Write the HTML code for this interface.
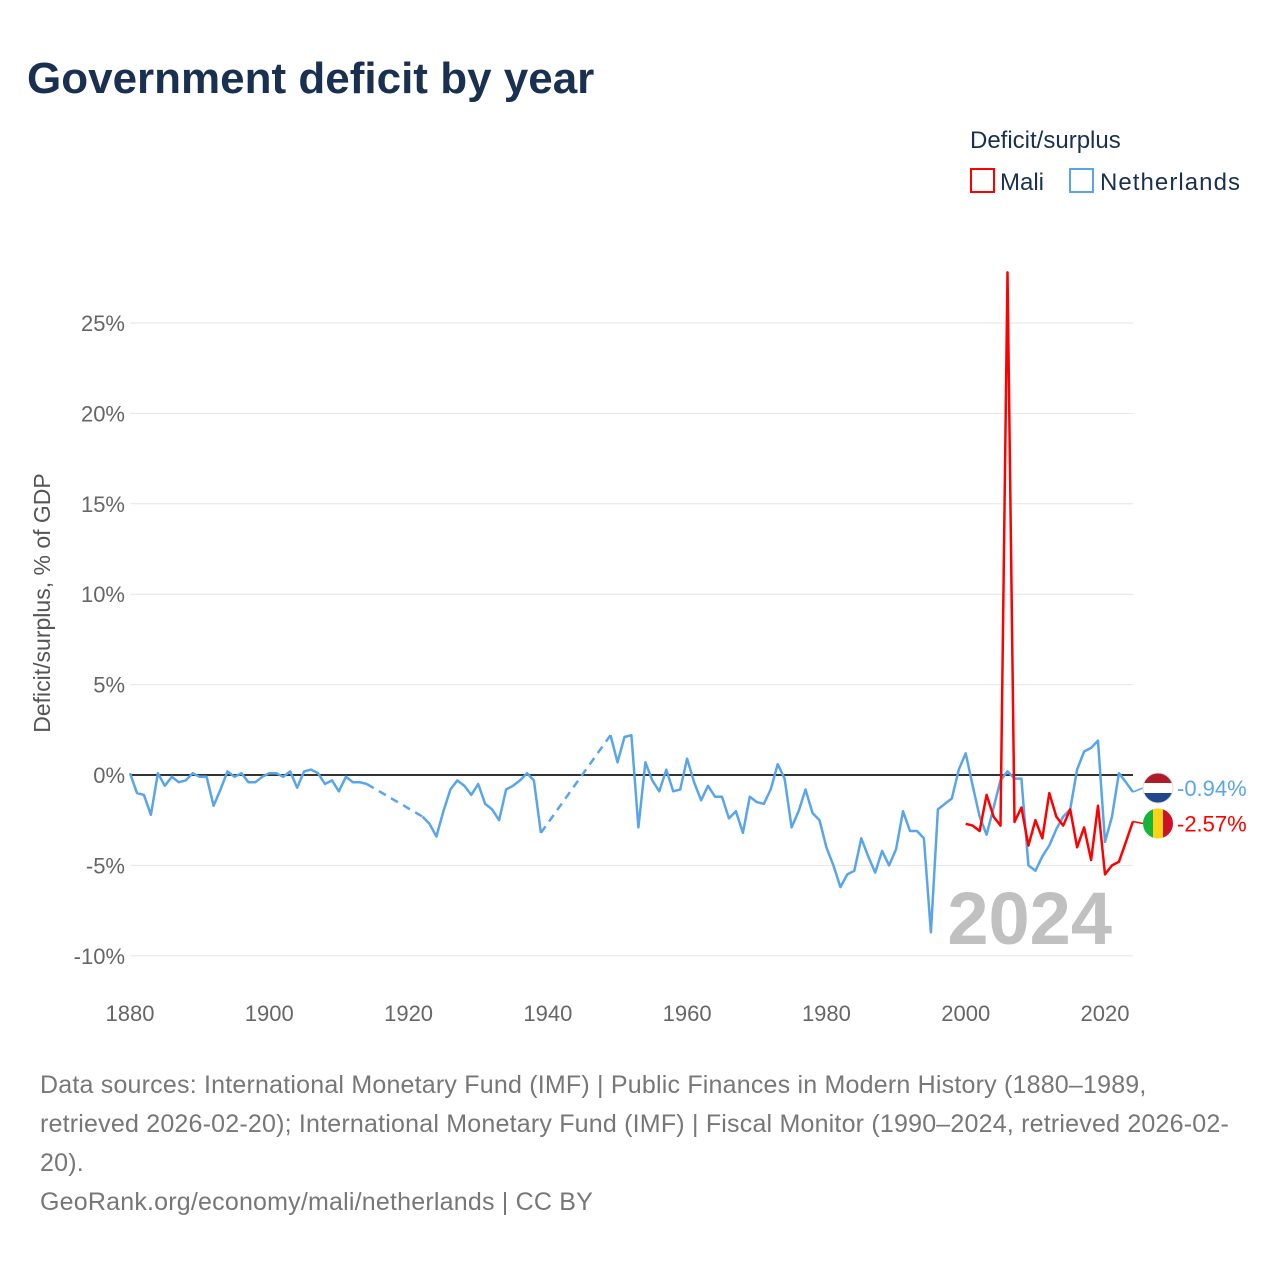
<!DOCTYPE html>
<html><head><meta charset="utf-8"><style>
body{margin:0;background:#fff;font-family:"Liberation Sans",sans-serif;}
#wrap{position:relative;width:1280px;height:1280px;overflow:hidden}
svg text{font-family:"Liberation Sans",sans-serif}
</style></head><body><div id="wrap">
<svg id="c" width="1280" height="1280">
<text x="27" y="93" font-size="44" font-weight="bold" fill="#1a3050">Government deficit by year</text>
<text x="970" y="148" font-size="24" fill="#1a3050">Deficit/surplus</text>
<rect x="971" y="169" width="23" height="23" fill="none" stroke="#ff0000" stroke-width="2"/>
<text x="1000" y="190" font-size="24" fill="#1a3050">Mali</text>
<rect x="1070" y="169" width="23" height="23" fill="none" stroke="#5aa5ea" stroke-width="2"/>
<text x="1100" y="190" font-size="24" fill="#1a3050" textLength="140">Netherlands</text>
<text transform="translate(50,603) rotate(-90)" text-anchor="middle" font-size="23" fill="#555">Deficit/surplus, % of GDP</text>
<g id="grid"></g><g id="marks"></g>
<text x="1112" y="944" text-anchor="end" font-size="74" font-weight="bold" fill="#c0c0c0">2024</text>
</svg>
<div style="position:absolute;left:40px;top:1066px;width:1200px;font-size:25px;letter-spacing:0.2px;line-height:39px;color:#777">Data sources: International Monetary Fund (IMF) | Public Finances in Modern History (1880–1989, retrieved 2026-02-20); International Monetary Fund (IMF) | Fiscal Monitor (1990–2024, retrieved 2026-02-20).<br>GeoRank.org/economy/mali/netherlands | CC BY</div>
</div>
<script>
const yTicks=[25,20,15,10,5,0,-5,-10];
const xTicks=[1880,1900,1920,1940,1960,1980,2000,2020];
const nlYears=[1880,1881,1882,1883,1884,1885,1886,1887,1888,1889,1890,1891,1892,1893,1894,1895,1896,1897,1898,1899,1900,1901,1902,1903,1904,1905,1906,1907,1908,1909,1910,1911,1912,1913,1914,1922,1923,1924,1925,1926,1927,1928,1929,1930,1931,1932,1933,1934,1935,1936,1937,1938,1939,1949,1950,1951,1952,1953,1954,1955,1956,1957,1958,1959,1960,1961,1962,1963,1964,1965,1966,1967,1968,1969,1970,1971,1972,1973,1974,1975,1976,1977,1978,1979,1980,1981,1982,1983,1984,1985,1986,1987,1988,1989,1990,1991,1992,1993,1994,1995,1996,1997,1998,1999,2000,2001,2002,2003,2004,2005,2006,2007,2008,2009,2010,2011,2012,2013,2014,2015,2016,2017,2018,2019,2020,2021,2022,2023,2024];
const nlValues=[0.1,-1.0,-1.1,-2.2,0.1,-0.6,-0.1,-0.4,-0.3,0.1,-0.1,-0.1,-1.7,-0.8,0.2,-0.1,0.1,-0.4,-0.4,-0.1,0.1,0.1,-0.1,0.2,-0.7,0.2,0.3,0.1,-0.5,-0.3,-0.9,-0.1,-0.4,-0.4,-0.5,-2.3,-2.7,-3.4,-2.0,-0.8,-0.3,-0.6,-1.1,-0.5,-1.6,-1.9,-2.5,-0.8,-0.6,-0.3,0.1,-0.3,-3.2,2.2,0.7,2.1,2.2,-2.9,0.7,-0.3,-0.9,0.3,-0.9,-0.8,0.9,-0.4,-1.4,-0.6,-1.2,-1.2,-2.4,-2.0,-3.2,-1.2,-1.5,-1.6,-0.8,0.6,-0.2,-2.9,-2.0,-0.8,-2.1,-2.5,-4.0,-5.0,-6.2,-5.5,-5.3,-3.5,-4.5,-5.4,-4.2,-5.0,-4.1,-2.0,-3.1,-3.1,-3.5,-8.7,-1.9,-1.6,-1.3,0.3,1.2,-0.6,-2.3,-3.3,-1.8,-0.3,0.2,-0.2,-0.2,-5.0,-5.3,-4.5,-3.9,-3.0,-2.3,-1.9,0.3,1.3,1.5,1.9,-3.7,-2.3,0.1,-0.4,-0.94];
const maliYears=[2000,2001,2002,2003,2004,2005,2006,2007,2008,2009,2010,2011,2012,2013,2014,2015,2016,2017,2018,2019,2020,2021,2022,2023,2024];
const maliValues=[-2.7,-2.8,-3.1,-1.1,-2.3,-2.8,27.8,-2.6,-1.8,-3.9,-2.5,-3.5,-1.0,-2.3,-2.8,-1.9,-4.0,-2.9,-4.7,-1.7,-5.5,-5.0,-4.8,-3.7,-2.57];
const X=y=>130+(y-1880)*975/140;
const Y=v=>775-v*18.08;
const NS="http://www.w3.org/2000/svg";
function mk(tag,attrs,parent){const e=document.createElementNS(NS,tag);for(const k in attrs)e.setAttribute(k,attrs[k]);parent.appendChild(e);return e;}
const grid=document.getElementById('grid'),marks=document.getElementById('marks');
yTicks.forEach(t=>{
  const l=mk('line',{x1:130,x2:1133,y1:Y(t),y2:Y(t),stroke:'#e6e6e6','stroke-width':1},grid);
  
  
  const tx=mk('text',{x:125,y:Y(t)+8,'text-anchor':'end','font-size':22,fill:'#666'},grid);
  tx.textContent=t+'%';
  
  
});
xTicks.forEach(t=>{
  const tx=mk('text',{x:X(t),y:1021,'text-anchor':'middle','font-size':22,fill:'#666'},grid);
  tx.textContent=t;
  
  
});
const zl=mk('line',{x1:130,x2:1133,y1:Y(0),y2:Y(0),stroke:'#333','stroke-width':2},grid);


function series(years,vals,color,name){
  let solid='',dash='';
  for(let i=0;i<years.length;i++){
    const p=X(years[i]).toFixed(1)+','+Y(vals[i]).toFixed(1);
    if(i===0||years[i]-years[i-1]>1){
      if(i>0)dash+='M'+X(years[i-1]).toFixed(1)+','+Y(vals[i-1]).toFixed(1)+'L'+p;
      solid+='M'+p;
    } else solid+='L'+p;
  }
  const a=mk('path',{d:solid,fill:'none',stroke:color,'stroke-width':2.5,'stroke-linejoin':'round'},marks);
  
  
  if(dash){const b=mk('path',{d:dash,fill:'none',stroke:color,'stroke-width':2.5,'stroke-dasharray':'8,6'},marks);
  
  }
}
series(nlYears,nlValues,'#5aa5ea','netherlands');
series(maliYears,maliValues,'#ff0000','mali');
const nlLast=nlValues[nlValues.length-1],mLast=maliValues[maliValues.length-1];
let ny=Y(nlLast)-4,my=Y(mLast)+2;
mk('line',{x1:1133,x2:1143,y1:Y(nlLast),y2:ny,stroke:'#5aa5ea','stroke-width':1.5},marks);
mk('line',{x1:1133,x2:1143,y1:Y(mLast),y2:my,stroke:'#ff0000','stroke-width':1.5},marks);
const defs=mk('defs',{},marks);
const cp1=mk('clipPath',{id:'cnl'},defs);mk('circle',{cx:1158,cy:ny,r:15},cp1);
const cp2=mk('clipPath',{id:'cml'},defs);mk('circle',{cx:1158,cy:my,r:15},cp2);
const fn=mk('g',{'clip-path':'url(#cnl)'},marks);


mk('rect',{x:1143,y:ny-15,width:30,height:10,fill:'#ae1c28'},fn);
mk('rect',{x:1143,y:ny-5,width:30,height:10,fill:'#fff'},fn);
mk('rect',{x:1143,y:ny+5,width:30,height:10,fill:'#21468b'},fn);
mk('circle',{cx:1158,cy:ny,r:15,fill:'none',stroke:'#ddd','stroke-width':1},marks);
const fm=mk('g',{'clip-path':'url(#cml)'},marks);


mk('rect',{x:1143,y:my-15,width:10,height:30,fill:'#14b53a'},fm);
mk('rect',{x:1153,y:my-15,width:10,height:30,fill:'#fcd116'},fm);
mk('rect',{x:1163,y:my-15,width:10,height:30,fill:'#ce1126'},fm);
const t1=mk('text',{x:1177,y:ny+8,'font-size':22,fill:'#5aa5ea'},marks);t1.textContent=nlLast.toFixed(2)+'%';


const t2=mk('text',{x:1177,y:my+8,'font-size':22,fill:'#ff0000'},marks);t2.textContent=mLast.toFixed(2)+'%';


</script></body></html>
